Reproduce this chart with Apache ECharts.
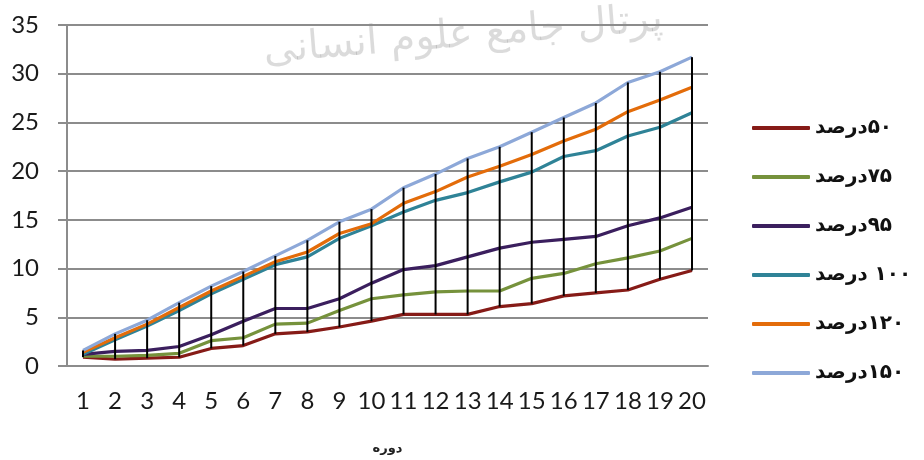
<!DOCTYPE html>
<html>
<head>
<meta charset="utf-8">
<script src="https://cdn.jsdelivr.net/npm/echarts@6/dist/echarts.min.js"></script>
<style>html,body{margin:0;padding:0;background:#fff;}#c{width:924px;height:460px;}</style>
</head>
<body>
<div id="c"></div>
<script>
const periods = ['1','2','3','4','5','6','7','8','9','10','11','12','13','14','15','16','17','18','19','20'];
const yTicks = [0, 5, 10, 15, 20, 25, 30, 35];
const seriesNames = ['\u200F۵۰درصد', '\u200F۷۵درصد', '\u200F۹۵درصد', '\u200F۱۰۰ درصد', '\u200F۱۲۰درصد', '\u200F۱۵۰درصد'];
const s50  = [0.9,0.7,0.8,0.9,1.8,2.1,3.3,3.5,4.0,4.6,5.3,5.3,5.3,6.1,6.4,7.2,7.5,7.8,8.9,9.8];
const s75  = [1.0,1.0,1.1,1.3,2.6,2.9,4.3,4.4,5.7,6.9,7.3,7.6,7.7,7.7,9.0,9.5,10.5,11.1,11.8,13.1];
const s95  = [1.2,1.5,1.6,2.0,3.2,4.6,5.9,5.9,6.9,8.5,9.9,10.3,11.2,12.1,12.7,13.0,13.3,14.4,15.2,16.3];
const s100 = [1.2,2.7,4.1,5.7,7.4,8.9,10.4,11.2,13.1,14.4,15.8,17.0,17.8,18.9,19.9,21.5,22.1,23.6,24.5,26.0];
const s120 = [1.4,2.9,4.3,6.0,7.7,9.2,10.7,11.7,13.6,14.6,16.7,17.9,19.4,20.5,21.7,23.1,24.3,26.1,27.3,28.6];
const s150 = [1.6,3.3,4.7,6.5,8.2,9.7,11.3,12.9,14.8,16.1,18.3,19.7,21.3,22.5,24.0,25.5,27.0,29.1,30.2,31.7];
const xName = 'دوره';
const watermark = 'پرتال جامع علوم انسانی';

const allSeries = [s50, s75, s95, s100, s120, s150];
const colors = ['#861B17', '#76923C', '#3B1F5E', '#2F8397', '#E36C0A', '#8DA8D8'];

const hiLo = periods.map((p, i) => {
  const vals = allSeries.map(s => s[i]);
  return [i, Math.min.apply(null, vals), Math.max.apply(null, vals)];
});

const chart = echarts.init(document.getElementById('c'), null, {renderer: 'canvas'});
const lineSeries = allSeries.map((d, k) => ({
  name: seriesNames[k],
  type: 'line',
  data: d,
  symbol: 'none',
  smooth: false,
  lineStyle: {color: colors[k], width: 3.2},
  itemStyle: {color: colors[k]},
  z: 2 + k
}));

chart.setOption({
  animation: false,
  backgroundColor: '#ffffff',
  color: colors,
  graphic: [{
    type: 'text',
    left: 262,
    top: 0,
    rotation: 0.08,
    z: 0,
    style: {text: watermark, fontSize: 40, fontFamily: 'DejaVu Sans', fill: 'rgba(0,0,0,0.14)'}
  }],
  grid: {left: 67, right: 216, top: 25, bottom: 92, containLabel: false},
  legend: {
    orient: 'vertical',
    left: 752,
    top: 117,
    padding: 0,
    itemWidth: 58,
    itemHeight: 4,
    itemGap: 27,
    icon: 'roundRect',
    textStyle: {fontSize: 20, fontWeight: 'bold', fontFamily: 'DejaVu Sans', color: '#111', lineHeight: 22},
    data: seriesNames
  },
  xAxis: {
    type: 'category',
    data: periods,
    boundaryGap: true,
    name: xName,
    nameLocation: 'middle',
    nameGap: 76,
    nameTextStyle: {fontSize: 13, fontWeight: 'bold', fontFamily: 'DejaVu Sans', color: '#222'},
    axisLine: {lineStyle: {color: '#8c8c8c', width: 2}},
    axisTick: {show: false},
    axisLabel: {interval: 0, margin: 23, fontSize: 24, fontFamily: 'Lato', color: '#1a1a1a'}
  },
  yAxis: {
    type: 'value',
    min: yTicks[0],
    max: yTicks[yTicks.length - 1],
    interval: yTicks[1] - yTicks[0],
    axisLine: {show: true, lineStyle: {color: '#8c8c8c', width: 2}},
    axisTick: {show: true, length: 9, lineStyle: {color: '#8c8c8c', width: 2}},
    splitLine: {lineStyle: {color: '#8c8c8c', width: 2}},
    axisLabel: {margin: 28, fontSize: 24, fontFamily: 'Lato', color: '#1a1a1a'}
  },
  series: lineSeries.concat([{
    type: 'custom',
    name: 'hilo',
    data: hiLo,
    z: 20,
    silent: true,
    renderItem: function (params, api) {
      const top = api.coord([api.value(0), api.value(2)]);
      const bot = api.coord([api.value(0), api.value(1)]);
      return {
        type: 'line',
        shape: {x1: top[0], y1: top[1], x2: bot[0], y2: bot[1]},
        style: {stroke: '#000', lineWidth: 2}
      };
    }
  }])
});
</script>
</body>
</html>
